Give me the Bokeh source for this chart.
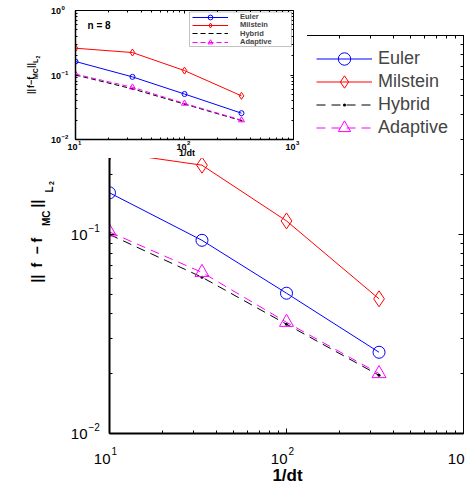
import math
from bokeh.plotting import figure
from bokeh.models import (LogAxis, Label, Legend, LegendItem, GridBox, FixedTicker,
                          CustomJSTickFormatter, Range1d, LogScale, BoxAnnotation)
from bokeh.embed import file_html
from bokeh.resources import INLINE

# ---------------- data ----------------
inv_dt = [10, 33.3, 100, 333.3]
euler = [0.162, 0.0935, 0.0507, 0.0256]
milstein = [0.26, 0.223, 0.117, 0.0475]
hybrid = [0.100, 0.061, 0.0354, 0.0196]
adaptive = [0.103, 0.0645, 0.0362, 0.0200]
series_labels = ["Euler", "Milstein", "Hybrid", "Adaptive"]
x_tick_values = [10, 100, 1000]
x_tick_exps = ["1", "2", "3"]
y_tick_values = [0.01, 0.1, 1]
y_tick_exps = ["\u22122", "\u22121", "0"]
x_title = "1/dt"
inset_note = "n = 8"

# ---------------- layout (pixels) ----------------
W, H = 466, 485
MAIN = dict(left=109, right=463, top=35, bottom=433)
INS_W, INS_H = 307, 158
INS = dict(left=75, right=293, top=10, bottom=139)

FONT = "Liberation Sans"
BLUE, RED, BLACK, MAGENTA = "#0000ff", "#ff0000", "#000000", "#ff00ff"
X0, Y0 = 10, 0.01
minor = [m * 10 ** k for k in range(-2, 3) for m in range(2, 10)]


def make_fig(w, h, box, major_in, minor_in, thick):
    f = figure(width=w, height=h, x_axis_type="log", y_axis_type="log",
               x_range=(10, 1000), y_range=(0.01, 1),
               output_backend="svg", toolbar_location=None, title=None,
               min_border_left=box["left"], min_border_right=w - box["right"],
               min_border_top=box["top"], min_border_bottom=h - box["bottom"])
    f.frame_align = False
    f.add_layout(LogAxis(), "above")
    f.add_layout(LogAxis(), "right")
    f.xgrid.visible = False
    f.ygrid.visible = False
    f.outline_line_color = "black"
    f.outline_line_width = 1
    for ax in f.xaxis:
        ax.ticker = FixedTicker(ticks=x_tick_values, minor_ticks=minor)
    for ax in f.yaxis:
        ax.ticker = FixedTicker(ticks=y_tick_values, minor_ticks=minor)
    for ax in f.axis:
        ax.formatter = CustomJSTickFormatter(code="return ''")
        ax.major_label_standoff = 0
        ax.major_tick_out = 0
        ax.major_tick_in = major_in
        ax.minor_tick_out = 0
        ax.minor_tick_in = minor_in
        ax.axis_line_color = "black"
        ax.major_tick_line_color = "black"
        ax.minor_tick_line_color = "black"
        ax.axis_line_width = 1
    f.below[0].axis_line_width = thick
    f.left[0].axis_line_width = thick
    return f


def add_series(f, cs, ds, ts, dots, dash, lw):
    l1 = f.line(inv_dt, euler, line_color=BLUE, line_width=lw)
    m1 = f.scatter(inv_dt, euler, marker="circle", size=cs, line_color=BLUE,
                   fill_color=None, line_width=lw)
    l2 = f.line(inv_dt, milstein, line_color=RED, line_width=lw)
    m2 = f.scatter(inv_dt, milstein, marker="diamond", size=ds, line_color=RED,
                   fill_color=None, line_width=lw)
    l3 = f.line(inv_dt, hybrid, line_color=BLACK, line_width=lw, line_dash=dash)
    m3 = f.scatter(inv_dt, hybrid, marker="dot", size=dots, line_color=BLACK,
                   fill_color=BLACK)
    l4 = f.line(inv_dt, adaptive, line_color=MAGENTA, line_width=lw, line_dash=dash)
    m4 = f.scatter(inv_dt, adaptive, marker="triangle", size=ts, line_color=MAGENTA,
                   fill_color=None, line_width=lw)
    return [[l1, m1], [l2, m2], [l3, m3], [l4, m4]]


def stacked_legend(f, groups, box, x_px, first_px, pitch, gh, **kw):
    # one single-entry legend per series, stacked at a fixed pitch
    for i, (n, r) in enumerate(zip(series_labels, groups)):
        centre = first_px + pitch * i
        vy = box["bottom"] - centre - gh / 2
        f.add_layout(Legend(items=[LegendItem(label=n, renderers=r)],
                            location=(x_px - box["left"], vy),
                            glyph_height=gh, label_height=gh, padding=0, margin=0,
                            spacing=0, border_line_color=None,
                            background_fill_alpha=0, label_text_font=FONT, **kw))


def px_to_data(px, lo_exp, hi_exp, lo_px, hi_px):
    return 10 ** (lo_exp + (px - lo_px) * (hi_exp - lo_exp) / (hi_px - lo_px))


# ---------------- main axes ----------------
p = make_fig(W, H, MAIN, 5, 3, 2)
groups = add_series(p, 12, 16, 14, 12, "9 6", 1)
stacked_legend(p, groups, MAIN, 316, 58, 23.33, 31, glyph_width=56, label_standoff=6,
               label_text_font_size="18px")

# ---------------- inset axes ----------------
q = make_fig(INS_W, INS_H, INS, 3, 2, 1.5)
groups2 = add_series(q, 5, 7, 6, 8, "5 3", 1)
q.add_layout(BoxAnnotation(
    left=px_to_data(189, 1, 3, INS["left"], INS["right"]),
    right=px_to_data(291, 1, 3, INS["left"], INS["right"]),
    bottom=px_to_data(INS["bottom"] - 46, -2, 0, 0, INS["bottom"] - INS["top"]),
    top=px_to_data(INS["bottom"] - 11.5, -2, 0, 0, INS["bottom"] - INS["top"]),
    fill_color="white", fill_alpha=1, line_color="black", line_width=0.8))
stacked_legend(q, groups2, INS, 192, 16.5, 8.4, 12, glyph_width=36, label_standoff=12,
               label_text_font_size="7.5px", label_text_font_style="bold")

# ---------------- transparent text overlay (same log scales) ----------------
def log_range(lo_exp, hi_exp, lo_px, hi_px, total):
    dec = (hi_px - lo_px) / (hi_exp - lo_exp)
    return Range1d(10 ** (lo_exp - lo_px / dec), 10 ** (hi_exp + (total - hi_px) / dec))


t = figure(width=W, height=H, x_axis_type="log", y_axis_type="log",
           x_range=log_range(1, 3, MAIN["left"], MAIN["right"], W),
           y_range=log_range(-2, 0, H - MAIN["bottom"], H - MAIN["top"], H),
           output_backend="svg", toolbar_location=None, title=None,
           x_axis_location=None, y_axis_location=None, min_border=0)
t.frame_align = False
t.extra_x_ranges = {"ins": log_range(1, 3, INS["left"], INS["right"], W)}
t.extra_y_ranges = {"ins": log_range(-2, 0, H - INS["bottom"], H - INS["top"], H)}
t.extra_x_scales = {"ins": LogScale()}
t.extra_y_scales = {"ins": LogScale()}
t.xgrid.visible = False
t.ygrid.visible = False
t.outline_line_color = None
t.background_fill_alpha = 0
t.border_fill_alpha = 0

SHIFT = 0.27  # baseline correction, fraction of font size


def label(text, x, y, dx, dy, size, bold=False, align="left", angle=0.0, rn="default"):
    if angle:
        dx -= SHIFT * size
    else:
        dy += SHIFT * size
    t.add_layout(Label(x=x, y=y, x_offset=dx, y_offset=dy, text=text,
                       x_range_name=rn, y_range_name=rn,
                       text_font=FONT, text_font_size=f"{size}px",
                       text_font_style="bold" if bold else "normal",
                       text_align=align, text_baseline="alphabetic",
                       angle=angle, text_color="black"))


A = math.pi / 2
# main tick labels and titles
for v, e in zip(x_tick_values, x_tick_exps):
    label("10", v, Y0, 1, -29.7, 15, align="right")
    label(e, v, Y0, 2, -20, 10)
for v, e in zip(y_tick_values[:2], y_tick_exps[:2]):
    label("10", X0, v, -22, -5, 15, align="right")
    label(e, X0, v, -21, 4, 10)
label(x_title, 100, Y0, 1, -47, 17, bold=True, align="center")
for txt, sz, dx, dy in [("||", 14, -69, 151), ("f", 14, -69, 166), ("\u2212", 14, -69, 179),
                        ("f", 14, -69, 191), ("MC", 10, -60.5, 207.5), ("||", 14, -69, 226),
                        ("L", 10, -57.5, 241), ("2", 7, -56, 248.5)]:
    label(txt, X0, Y0, dx, dy, sz, bold=True, angle=A)

# inset tick labels and titles
for v, e in zip(x_tick_values, x_tick_exps):
    label("10", v, Y0, 2, -10, 9, bold=True, align="right", rn="ins")
    label(e, v, Y0, 2.5, -5, 6, bold=True, rn="ins")
for v, e in zip(y_tick_values, y_tick_exps):
    label("10", X0, v, -14.5, -3, 9, bold=True, align="right", rn="ins")
    label(e, X0, v, -14, 0.5, 6, bold=True, rn="ins")
label(x_title, 100, Y0, 2.5, -15.7, 9, bold=True, align="center", rn="ins")
label(inset_note, X0, Y0, 12, 111.5, 10, bold=True, rn="ins")
for txt, sz, dx, dy in [("||", 9, -42, 45.5), ("f\u2212f", 9, -42, 51.5), ("MC", 7, -38, 60.5),
                        ("||", 9, -42, 71.5), ("L", 7, -38, 76.5), ("2", 5, -36, 81)]:
    label(txt, X0, Y0, dx, dy, sz, bold=True, angle=A, rn="ins")

root = GridBox(children=[(p, 0, 0), (q, 0, 0), (t, 0, 0)])
open("out.html", "w").write(file_html(root, INLINE))
